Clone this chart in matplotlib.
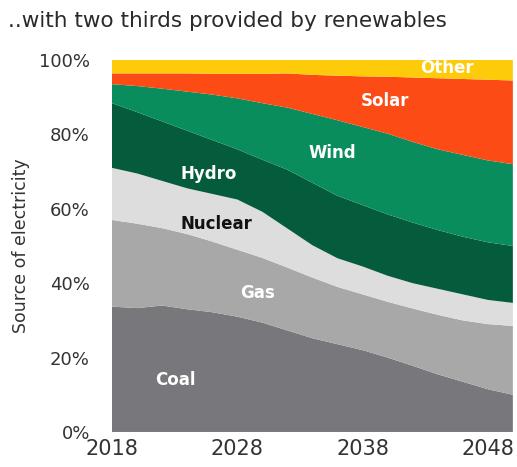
#!/usr/bin/env python3
"""Stacked area chart of the electricity mix, 2018-2050."""

import matplotlib

matplotlib.use("Agg")
import matplotlib.pyplot as plt
from matplotlib.ticker import FuncFormatter

years = [2018, 2020, 2022, 2024, 2026, 2028, 2030, 2032, 2034,
         2036, 2038, 2040, 2042, 2044, 2046, 2048, 2050]

# share of electricity by source, in percent
coal = [33.7, 33.3, 34.0, 33.0, 32.2, 31.0, 29.4, 27.3, 25.2,
        23.6, 22.0, 20.0, 17.8, 15.5, 13.5, 11.5, 10.0]
gas = [23.3, 22.7, 20.8, 20.2, 19.0, 18.0, 17.4, 16.9, 16.3,
       15.4, 15.0, 15.0, 15.4, 16.0, 16.5, 17.5, 18.5]
nuclear = [14.0, 13.5, 12.7, 12.3, 12.8, 13.5, 12.4, 10.5, 8.7,
           7.7, 7.5, 7.0, 6.8, 7.0, 7.0, 6.5, 6.2]
hydro = [17.4, 16.5, 16.0, 15.5, 14.5, 13.5, 14.0, 15.8, 16.8,
         16.8, 16.5, 16.5, 16.3, 15.8, 15.5, 15.5, 15.3]
wind = [5.1, 7.0, 8.8, 10.5, 12.2, 13.7, 15.2, 16.7, 18.5,
        20.3, 21.0, 21.7, 21.7, 21.7, 22.0, 22.0, 22.0]
solar = [2.9, 3.4, 4.1, 4.9, 5.6, 6.6, 7.9, 9.2, 10.5,
         12.0, 13.6, 15.3, 17.3, 19.1, 20.4, 21.7, 22.5]
other = [3.6, 3.6, 3.6, 3.6, 3.7, 3.7, 3.7, 3.8, 4.0,
         4.2, 4.4, 4.5, 4.7, 4.9, 5.1, 5.3, 5.5]

sources = ["Coal", "Gas", "Nuclear", "Hydro", "Wind", "Solar", "Other"]
colors = ["#78777c", "#a8a8a8", "#dddddd", "#045c3c", "#0a8d5c", "#fd4b15", "#fecb0a"]

x_ticks = [2018, 2028, 2038, 2048]
y_ticks = [0, 20, 40, 60, 80, 100]

plt.rcParams["font.family"] = ["DejaVu Sans"]

fig = plt.figure(figsize=(5.17, 4.67), dpi=100)
ax = fig.add_axes([0.2166, 0.075, 0.7754, 0.7965])

ax.stackplot(years, coal, gas, nuclear, hydro, wind, solar, other,
             colors=colors, labels=sources, linewidth=0)

ax.set_xlim(2018, 2050)
ax.set_ylim(0, 100)
ax.set_xticks(x_ticks)
ax.set_yticks(y_ticks)
ax.yaxis.set_major_formatter(FuncFormatter(lambda v, _: f"{v:.0f}%"))
ax.tick_params(length=0, colors="#333333")
ax.tick_params(axis="y", labelsize=13, pad=16)
ax.tick_params(axis="x", labelsize=15, pad=5)
for spine in ax.spines.values():
    spine.set_visible(False)

ax.set_ylabel("Source of electricity", fontsize=12.5, color="#333333", labelpad=6)

# in-area series labels
labels = [
    ("Coal", 2023.1, 14.0, "white"),
    ("Gas", 2029.6, 37.4, "white"),
    ("Nuclear", 2026.3, 55.9, "#111111"),
    ("Hydro", 2025.7, 69.4, "white"),
    ("Wind", 2035.6, 75.0, "white"),
    ("Solar", 2039.8, 89.0, "white"),
    ("Other", 2044.7, 97.8, "white"),
]
for name, lx, ly, col in labels:
    ax.text(lx, ly, name, ha="center", va="center", fontsize=12,
            fontweight="bold", color=col)

fig.text(0.015, 0.955, "..with two thirds provided by renewables",
         fontsize=15.5, color="#2a2a2a", ha="left", va="center")

fig.savefig("out.png", dpi=100)
plt.close(fig)
